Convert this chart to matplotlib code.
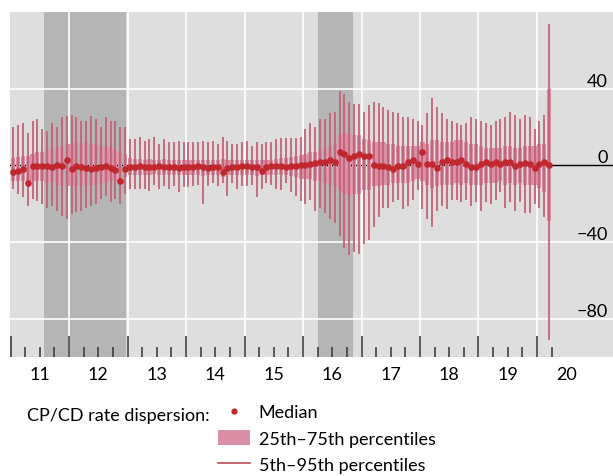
import matplotlib
matplotlib.use("Agg")
import matplotlib.pyplot as plt
from matplotlib.lines import Line2D
from matplotlib.patches import Patch
import numpy as np
import pandas as pd

plt.rcParams['font.family'] = ['Lato', 'DejaVu Sans']
plt.rcParams['font.size'] = 13

### Data: monthly, Jan 2011 - Mar 2020 (basis points)
months = pd.date_range('2011-01-01', '2020-03-01', freq='MS')

p95 = [20, 21, 22, 17, 23, 24, 19, 18, 22, 20, 25, 26,
       26.5, 25, 23, 23, 26, 24, 20, 25, 23, 23, 20, 20,
       14, 13.5, 15, 12.5, 13.5, 15, 11, 13.5, 12, 12, 12.5, 12,
       12, 12, 12, 12.5, 12, 12.5, 11, 15, 12.5, 11, 11, 12,
       12.5, 10, 12, 11, 12, 12, 13.5, 14.5, 14.5, 14.5, 14.5, 15,
       19, 22, 20, 24, 24, 27.5, 28, 39, 37, 33, 32, 32,
       28, 31.7, 33, 32.7, 30.6, 29, 28, 27.5, 25.4, 25, 24, 23,
       21, 27.5, 35, 30.6, 27.5, 24, 23, 22, 21, 22, 25, 24,
       23, 22, 21, 23, 24, 25.4, 28, 26.5, 24, 26.5, 25, 18.7,
       23, 26.5, 74]
p75 = [4, 4.5, 5, 5, 6, 7, 7, 8, 9, 9, 10, 11,
       11, 12, 11, 12, 11, 11, 10, 10, 9, 8, 7, 6,
       4, 3.5, 3.5, 3, 3.5, 3, 3, 3.5, 3, 3, 3, 3,
       3, 3, 3, 3, 3, 3, 3, 3.5, 3, 3, 3, 3,
       3, 3, 3, 3, 3, 3, 3.5, 4, 4, 4.5, 5, 5.5,
       6, 7, 7, 8, 9, 10, 11, 16, 17, 17, 16, 16,
       14, 13, 12, 12, 12, 11, 11, 10, 10, 10, 10, 10,
       12, 11, 13, 13, 12, 12, 12, 13, 13, 12, 11, 11,
       10, 9, 9, 9, 9, 10, 10, 9, 9, 10, 10, 10,
       11, 11, 40]
p50 = [-3.6, -3, -2, -9, -0.5, -0.5, -0.5, -0.5, -1, 0, -0.5, 2.6,
       -2, -0.5, -1, -1.5, -2, -1.5, -1, -0.5, -1.5, -2.5, -8, -2,
       -1, -1, -0.5, -1, -1, -1, -0.5, -1, -1, -1, -1.5, -1,
       -1, -1, -0.5, -1, -1.5, -1, -1, -3.6, -1.5, -1, -1, -0.5,
       -0.5, -1, -1, -3, -1, -0.5, -0.5, -0.5, -1, -0.5, -0.5, 0,
       0, 0.5, 1, 1.5, 2, 3, 2, 6.7, 5.7, 4, 4.7, 5.7,
       4.7, 4.7, 0, -0.5, -0.5, -1, -2, -0.5, -0.5, 1.5, 3, 0.5,
       6.7, 0.5, 0.5, -1.5, 1.5, 3, 1.5, 2, 3, 0.5, -1, -1,
       0.5, 1.5, 0.5, 1.5, 0.5, 1.5, 2, -0.5, 0.5, 1, 0.5, -1.5,
       0.5, 1.5, 0]
p25 = [-8, -8, -8, -10, -8, -8, -8, -9, -9, -10, -10, -11,
       -11, -11, -11, -10, -10, -10, -9, -9, -8, -8, -9, -6,
       -5, -5, -5, -5, -5, -4.5, -5, -5, -5, -5, -5, -5,
       -5, -5, -5, -5.5, -5, -5, -5, -6, -5, -5, -5, -5,
       -5, -5, -5.5, -5, -5, -5, -5, -5, -5, -5.5, -6, -7,
       -7, -7, -8, -8, -9, -10, -11, -13, -15, -16, -15, -15,
       -13, -13, -11, -11, -10, -10, -9, -9, -9, -9, -8, -7,
       -8, -10, -12, -11, -10, -10, -10, -9, -10, -9, -10, -10,
       -10, -9, -9, -9, -8, -10, -9, -10, -9, -10, -10, -10,
       -12, -14, -29]
p5 = [-12.5, -15, -16.6, -21, -17.6, -18.7, -20, -22, -21, -24, -26.5, -28,
      -25.4, -24.4, -24, -22, -21, -20, -17.6, -16, -19, -17.6, -20, -15,
      -12.5, -12.5, -12.5, -12.5, -13.5, -10, -12.5, -11, -12.5, -11, -14, -11.4,
      -11.4, -11, -10, -20, -11, -9, -11, -9, -16, -9, -12.5, -11,
      -11, -10, -16.6, -12.5, -9, -10, -12.5, -13, -9, -14, -16, -18.7,
      -20, -18, -24, -22, -25, -28, -30, -37, -43, -47, -45, -46,
      -41, -39, -32, -27, -22, -22, -19, -18, -23, -21, -18, -13,
      -23, -28, -32, -24, -21, -23, -18, -18, -19, -18, -21, -19,
      -24, -19, -20, -18, -14, -22, -19, -24, -19, -25, -25, -20,
      -22, -27, -91]

shaded = [(2011.57, 2012.98), (2016.26, 2016.86)]
years = list(range(2011, 2021))
ytick_vals = [-80, -40, 0, 40]
ytick_labels = ['\u221280', '\u221240', '0', '40']

x = months.year + (months.month - 0.5) / 12.0

### Plot
fig = plt.figure(figsize=(6.13, 4.77), dpi=100)
ax = fig.add_axes([10/613, 1-358/477, 603/613, 345/477])
ax.set_facecolor('#dedede')
ax.set_xlim(2010.99, 2021.30)
ax.set_ylim(-100, 80)
for s in ax.spines.values():
    s.set_visible(False)

for a, b in shaded:
    ax.axvspan(a, b, color='#b5b5b5', lw=0, zorder=0.5)
for yr in years[1:]:
    ax.axvline(yr, color='white', lw=1.2, zorder=1)
for v in ytick_vals:
    if v != 0:
        ax.axhline(v, color='white', lw=1.2, zorder=1)
ax.axhline(0, color='black', lw=1.0, zorder=2)

p25a = np.array(p25)
p75a = np.array(p75)
ax.bar(x, p75a - p25a, bottom=p25a, width=0.85/12, color='#d98fa5', lw=0, zorder=3)
ax.vlines(x, p5, p95, color='#c45f70', lw=1.25, zorder=4)
ax.plot(x, p50, 'o', ms=4.8, color='#c0282f', mew=0, zorder=5)

### x ticks: years (long) and quarters (short), drawn inward
ax.set_xticks(years)
quarters = [yr + q / 4 for yr in years for q in (1, 2, 3) if yr + q / 4 <= 2020.25]
ax.set_xticks(quarters, minor=True)
ax.tick_params(axis='x', which='major', direction='in', length=15, width=1.1,
               color='#333333', labelbottom=False)
ax.tick_params(axis='x', which='minor', direction='in', length=7, width=1.1,
               color='#333333', labelbottom=False)
for yr in years:
    ax.text(yr + 0.5, -0.025, str(yr % 100), transform=ax.get_xaxis_transform(),
            ha='center', va='top', fontsize=13)

### y ticks on the right, inside the plot
ax.set_yticks(ytick_vals)
ax.set_yticklabels(ytick_labels, ha='right', va='bottom')
ax.tick_params(axis='y', length=0, labelleft=False, labelright=True, pad=-3.6,
               labelsize=13)

### Legend
fig.text(27/613, 1-416/477, 'CP/CD rate dispersion:', ha='left', va='center', fontsize=13)
handles = [Line2D([], [], marker='o', ls='none', ms=4.5, color='#c0282f', mew=0),
           Patch(facecolor='#d98fa5', edgecolor='none'),
           Line2D([], [], color='#c04a55', lw=1.2)]
labels = ['Median', '25th\u201375th percentiles', '5th\u201395th percentiles']
fig.legend(handles, labels, loc='upper left', bbox_to_anchor=(218/613, 1-405/477),
           frameon=False, fontsize=13, handlelength=1.75, handleheight=0.85,
           handletextpad=0.5, labelspacing=0.55, borderpad=0, borderaxespad=0)

plt.savefig('out.png', dpi=100)
